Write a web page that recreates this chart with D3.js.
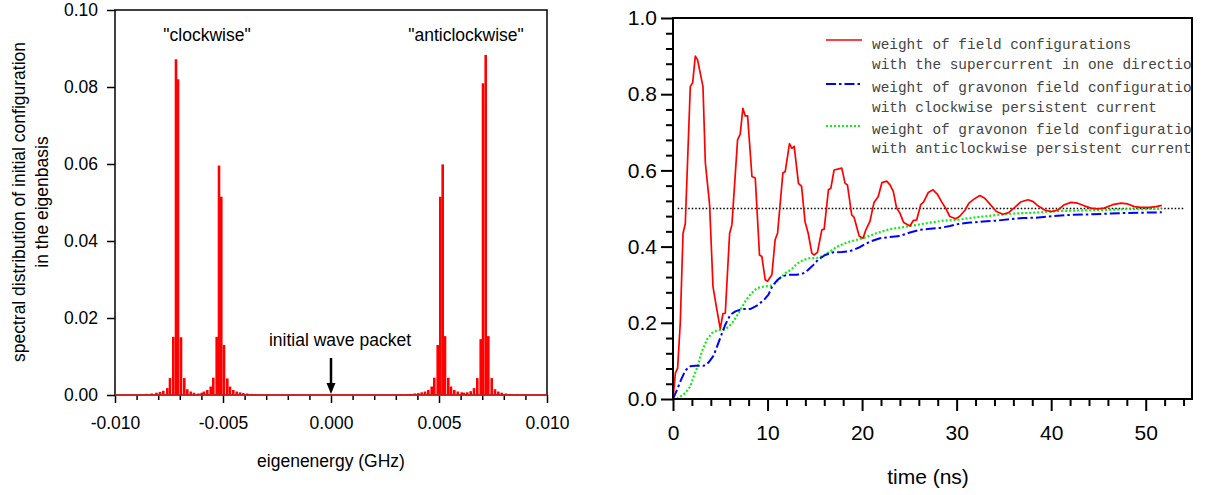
<!DOCTYPE html>
<html><head><meta charset="utf-8">
<script src="https://cdn.jsdelivr.net/npm/d3@7"></script>
<style>body{margin:0;background:#fff}svg{display:block}text{font-family:"Liberation Sans",Arial,sans-serif;fill:#000}</style>
</head><body><svg id="c" width="1205" height="495"></svg>
<script>
// ---------- Left panel data: spectral lines ----------
const specEnergy = [-0.0091,-0.0088,-0.00855,-0.0083,-0.00808,-0.007917,-0.007764,-0.007579,-0.007454,-0.007301,-0.007176,-0.007083,-0.006944,-0.006792,-0.006653,-0.006495,-0.006343,-0.006144,-0.005986,-0.00588,-0.005727,-0.005569,-0.005449,-0.005292,-0.005185,-0.005079,-0.004954,-0.004801,-0.004676,-0.004523,-0.004366,-0.004213,-0.00406,-0.00388,-0.0037,-0.0035,-0.0032,-0.0029,
 0.0029,0.0032,0.0035,0.0037,0.00388,0.004042,0.004199,0.004352,0.004505,0.004662,0.004782,0.00494,0.00506,0.005171,0.005278,0.005431,0.005556,0.005708,0.005866,0.006051,0.006157,0.00631,0.006468,0.00662,0.006773,0.006931,0.007037,0.007162,0.007282,0.00744,0.007593,0.007745,0.007903,0.008102,0.0083,0.0086,0.0089,0.0093];
const specWeight = [0.00015,0.0002,0.0003,0.0004,0.0006,0.0008,0.0011,0.0018,0.0044,0.0151,0.0872,0.0820,0.0150,0.0044,0.0015,0.0009,0.0006,0.0004,0.0006,0.0009,0.0013,0.0022,0.0045,0.0151,0.0596,0.0515,0.0130,0.0043,0.0022,0.0013,0.0009,0.0007,0.0005,0.0004,0.0003,0.0002,0.00015,0.0001,
 0.0001,0.00015,0.0002,0.0003,0.0004,0.0005,0.0007,0.0009,0.0013,0.0022,0.0045,0.0130,0.0515,0.0599,0.0153,0.0045,0.0022,0.0013,0.0009,0.0007,0.0006,0.0007,0.0010,0.0018,0.0044,0.0145,0.0810,0.0883,0.0153,0.0044,0.0015,0.0009,0.0006,0.0004,0.0003,0.0002,0.00015,0.0001];
const xTicksL = [-0.010,-0.005,0.000,0.005,0.010];
const xMinorTicksL = [-0.009,-0.008,-0.007,-0.006,-0.004,-0.003,-0.002,-0.001,0.001,0.002,0.003,0.004,0.006,0.007,0.008,0.009];
const yTicksL = [0.00,0.02,0.04,0.06,0.08,0.10];

// ---------- Right panel data: weights vs time ----------
const tRed = [0,0.25,0.49,0.77,1.06,1.3,1.83,2.08,2.36,2.6,3.17,3.42,3.87,4.23,4.58,5.0,5.28,5.53,5.99,6.23,6.83,7.11,7.39,7.64,7.89,8.35,8.7,9.15,9.4,9.75,10.0,10.46,10.8,11.06,11.62,11.87,12.32,12.57,12.82,13.27,13.6,13.96,14.3,14.68,14.93,15.28,15.74,15.99,16.44,16.69,17.04,17.85,18.2,18.45,18.9,19.15,19.7,20.1,20.4,20.83,21.26,21.7,22.1,22.6,22.95,23.3,23.65,24.0,24.4,25.06,25.4,25.77,26.2,26.5,27.0,27.5,27.95,28.4,28.9,29.28,29.9,30.3,30.9,31.3,31.8,32.45,32.98,33.5,34.2,34.9,35.5,36.15,36.75,37.55,38.1,38.6,39.3,40.0,40.7,41.4,42.1,42.8,43.5,44.2,44.9,45.6,46.5,47.4,48.1,48.8,49.5,50.4,51.1,51.7];
const vRed = [0,0.068,0.081,0.20,0.435,0.46,0.82,0.83,0.90,0.89,0.82,0.62,0.51,0.295,0.243,0.184,0.224,0.225,0.435,0.457,0.68,0.695,0.763,0.743,0.743,0.584,0.58,0.378,0.374,0.313,0.309,0.326,0.418,0.435,0.593,0.597,0.67,0.658,0.663,0.566,0.558,0.466,0.435,0.383,0.378,0.385,0.444,0.446,0.549,0.553,0.601,0.606,0.566,0.562,0.483,0.477,0.427,0.422,0.444,0.466,0.516,0.531,0.568,0.572,0.562,0.545,0.501,0.488,0.463,0.454,0.468,0.47,0.51,0.517,0.542,0.549,0.538,0.518,0.498,0.479,0.473,0.479,0.496,0.514,0.524,0.534,0.527,0.512,0.492,0.485,0.489,0.503,0.517,0.523,0.518,0.507,0.496,0.492,0.496,0.51,0.516,0.514,0.507,0.501,0.499,0.501,0.51,0.514,0.512,0.505,0.503,0.503,0.505,0.508];
const tBlue = [0,0.42,0.85,1.3,1.83,2.36,3.24,3.77,4.3,4.93,5.53,6.06,6.6,7.3,8.17,8.87,9.58,10.1,10.46,10.99,11.5,12.2,13.1,13.8,14.3,14.86,15.4,16.1,16.97,17.85,18.7,19.26,19.8,20.8,21.9,22.95,24.0,25.06,26.1,27.2,28.2,29.3,30.3,31.4,32.8,34.2,35.6,37.0,38.4,39.8,41.6,43.4,45.5,47.6,49.7,51.7];
const vBlue = [0,0.024,0.05,0.075,0.086,0.087,0.087,0.096,0.114,0.156,0.195,0.221,0.23,0.236,0.236,0.245,0.259,0.274,0.294,0.311,0.322,0.326,0.326,0.33,0.339,0.352,0.367,0.378,0.385,0.386,0.388,0.393,0.399,0.413,0.422,0.425,0.428,0.437,0.444,0.447,0.449,0.454,0.46,0.463,0.466,0.468,0.472,0.475,0.476,0.479,0.483,0.484,0.486,0.488,0.489,0.49];
const tGreen = [0.42,1.3,1.83,2.18,2.54,3.06,3.59,4.12,4.65,5.35,5.88,6.4,6.94,7.64,8.17,8.87,9.58,10.3,10.8,11.34,11.87,12.57,13.1,13.8,14.5,15.2,15.9,16.6,17.3,18.0,18.7,20.1,21.5,22.95,24.35,25.8,27.2,28.6,30.0,31.4,32.8,34.2,35.6,37.0,38.4,39.8,41.6,43.4,45.5,47.6,49.7,51.7];
const vGreen = [0,0.016,0.033,0.059,0.081,0.125,0.156,0.173,0.18,0.182,0.189,0.204,0.226,0.256,0.274,0.291,0.295,0.297,0.304,0.317,0.33,0.341,0.355,0.365,0.37,0.37,0.376,0.387,0.399,0.407,0.413,0.422,0.435,0.446,0.451,0.457,0.463,0.468,0.47,0.475,0.479,0.483,0.486,0.488,0.489,0.492,0.494,0.495,0.496,0.498,0.498,0.5];
const xTicksR = [0,10,20,30,40,50];
const xMinorTicksR = [2,4,6,8,12,14,16,18,22,24,26,28,32,34,36,38,42,44,46,48,52,54];
const yTicksR = [0.0,0.2,0.4,0.6,0.8,1.0];
const yMinorTicksR = [0.04,0.08,0.12,0.16,0.24,0.28,0.32,0.36,0.44,0.48,0.52,0.56,0.64,0.68,0.72,0.76,0.84,0.88,0.92,0.96];
const legendLabels = [
  ["weight of field configurations","with the supercurrent in one direction"],
  ["weight of gravonon field configurations","with clockwise persistent current"],
  ["weight of gravonon field configurations","with anticlockwise persistent current"]];
const refLevel = [0.5];

const svg = d3.select("#c");
svg.append("rect").attr("width",1205).attr("height",495).attr("fill","#fff");

// ================= LEFT PANEL =================
const FL = "17.5px";
const xL = d3.scaleLinear().domain([-0.010,0.010]).range([115,547]);
const yL = d3.scaleLinear().domain([0,0.10]).range([395,10]);
const gL = svg.append("g");

// spectral lines
gL.append("g").selectAll("line").data(specEnergy).join("line")
  .attr("x1",d=>xL(d)).attr("x2",d=>xL(d))
  .attr("y1",yL(0)).attr("y2",(d,i)=>yL(specWeight[i]))
  .attr("stroke","#ff0000").attr("stroke-width",2.6);

// axes
const axXL = gL.append("g").attr("transform",`translate(0,${yL(0)})`)
  .call(d3.axisBottom(xL).tickValues(xTicksL).tickSize(8).tickPadding(14).tickFormat(d=>d.toFixed(3)));
const axXLm = gL.append("g").attr("transform",`translate(0,${yL(0)})`)
  .call(d3.axisBottom(xL).tickValues(xMinorTicksL).tickSize(5).tickFormat(""));
const axYL = gL.append("g").attr("transform",`translate(${xL(-0.010)},0)`)
  .call(d3.axisLeft(yL).tickValues(yTicksL).tickSize(8).tickPadding(9).tickFormat(d=>d.toFixed(2)));
[axXL,axXLm,axYL].forEach(a=>{a.select(".domain").remove();a.selectAll("line").attr("stroke","#000").attr("stroke-width",1.5);a.selectAll("text").style("font-size",FL).attr("fill","#000");});
axXL.selectAll("text").attr("dy","0.71em");
gL.append("rect").attr("x",xL(-0.010)).attr("y",yL(0.10)).attr("width",xL(0.010)-xL(-0.010)).attr("height",yL(0)-yL(0.10))
  .attr("fill","none").attr("stroke","#000").attr("stroke-width",1.5);
// red baseline of the spectrum
gL.append("line").attr("x1",xL(-0.010)).attr("x2",xL(0.010)).attr("y1",yL(0)).attr("y2",yL(0))
  .attr("stroke","#ff2020").attr("stroke-width",1.6);

// labels
gL.append("text").attr("x",207).attr("y",41).attr("text-anchor","middle").style("font-size",FL).text("\"clockwise\"");
gL.append("text").attr("x",466).attr("y",41).attr("text-anchor","middle").style("font-size",FL).text("\"anticlockwise\"");
gL.append("text").attr("x",340).attr("y",346).attr("text-anchor","middle").style("font-size",FL).text("initial wave packet");
// arrow
gL.append("line").attr("x1",xL(0)).attr("x2",xL(0)).attr("y1",358).attr("y2",385).attr("stroke","#000").attr("stroke-width",2.5);
gL.append("path").attr("d",`M${xL(0)-4.5},383 L${xL(0)+4.5},383 L${xL(0)},394 Z`).attr("fill","#000");
gL.append("text").attr("x",xL(0)).attr("y",467).attr("text-anchor","middle").style("font-size",FL).text("eigenenergy (GHz)");
gL.append("text").attr("transform","translate(19,202) rotate(-90)").attr("text-anchor","middle").attr("dominant-baseline","central").style("font-size",FL).text("spectral distribution of initial configuration");
gL.append("text").attr("transform","translate(42,202) rotate(-90)").attr("text-anchor","middle").attr("dominant-baseline","central").style("font-size",FL).text("in the eigenbasis");

// ================= RIGHT PANEL =================
const xR = d3.scaleLinear().domain([0,55]).range([673,1193]);
const yR = d3.scaleLinear().domain([0,1]).range([399,18]);
const gR = svg.append("g");
svg.append("clipPath").attr("id","clipR").append("rect").attr("x",673).attr("y",0).attr("width",1192-673).attr("height",399);

// reference level
gR.append("line").attr("x1",xR(0.5)).attr("x2",xR(54)).attr("y1",yR(refLevel[0])).attr("y2",yR(refLevel[0]))
  .attr("stroke","#000").attr("stroke-width",1.3).attr("stroke-dasharray","1.5,2");

const line = d3.line().x(d=>xR(d[0])).y(d=>yR(d[1]));
const series = [
  {t:tGreen,v:vGreen,color:"#11ee11",dash:"2,2",w:2.2},
  {t:tBlue,v:vBlue,color:"#0000ff",dash:"10,3,2.5,3",w:2},
  {t:tRed,v:vRed,color:"#ff0000",dash:null,w:1.7}];
series.forEach(s=>{
  gR.append("path").datum(s.t.map((t,i)=>[t,s.v[i]])).attr("d",line)
    .attr("fill","none").attr("stroke",s.color).attr("stroke-width",s.w)
    .attr("stroke-dasharray",s.dash).attr("stroke-linejoin","round");
});

// axes
const axXR = gR.append("g").attr("transform",`translate(0,${yR(0)})`)
  .call(d3.axisBottom(xR).tickValues(xTicksR).tickSize(12).tickPadding(14).tickFormat(d=>String(d)));
const axXRm = gR.append("g").attr("transform",`translate(0,${yR(0)})`)
  .call(d3.axisBottom(xR).tickValues(xMinorTicksR).tickSize(7).tickFormat(""));
const axYR = gR.append("g").attr("transform",`translate(${xR(0)},0)`)
  .call(d3.axisLeft(yR).tickValues(yTicksR).tickSize(12).tickPadding(4).tickFormat(d=>d.toFixed(1)));
const axYRm = gR.append("g").attr("transform",`translate(${xR(0)},0)`)
  .call(d3.axisLeft(yR).tickValues(yMinorTicksR).tickSize(7).tickFormat(""));
[axXR,axXRm,axYR,axYRm].forEach(a=>{a.select(".domain").remove();a.selectAll("line").attr("stroke","#000").attr("stroke-width",2);a.selectAll("text").style("font-size","21px").attr("fill","#000");});
axXR.selectAll("text").attr("dy","0.71em");
gR.append("rect").attr("x",xR(0)).attr("y",yR(1)).attr("width",1192-xR(0)).attr("height",yR(0)-yR(1))
  .attr("fill","none").attr("stroke","#000").attr("stroke-width",2);
gR.append("text").attr("x",928).attr("y",484).attr("text-anchor","middle").style("font-size","21px").text("time (ns)");

// legend (text clipped at the right frame, as in the original figure)
const lg = gR.append("g").attr("clip-path","url(#clipR)");
const legY = [40,84,126];
const textY = [[44,64],[87,107],[129,148]];
const legStyles = [series[2],series[1],series[0]];
legStyles.forEach((s,i)=>{
  lg.append("line").attr("x1",826).attr("x2",862).attr("y1",legY[i]).attr("y2",legY[i])
    .attr("stroke",s.color).attr("stroke-width",s.w).attr("stroke-dasharray",s.dash);
  legendLabels[i].forEach((txt,j)=>{
    lg.append("text").attr("x",872).attr("y",textY[i][j]).attr("dy","0.35em")
      .style("font-family","'Liberation Mono','Courier New',monospace").style("font-size","14.4px")
      .attr("fill","#444").style("fill","#444").text(txt);
  });
});
</script></body></html>
